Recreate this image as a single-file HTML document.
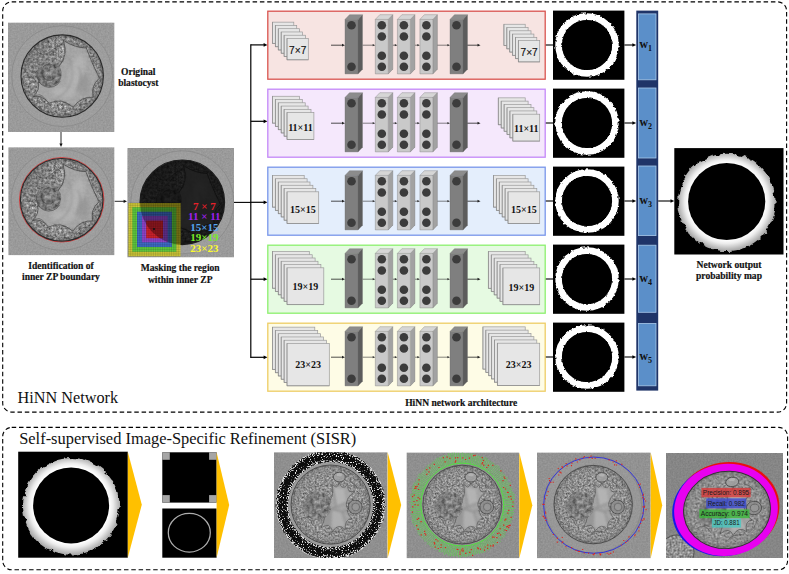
<!DOCTYPE html>
<html><head><meta charset="utf-8"><title>HiNN Network</title>
<style>html,body{margin:0;padding:0;background:#fff;overflow:hidden}svg{display:block}text{white-space:pre}</style></head><body>
<svg width="789" height="574" viewBox="0 0 789 574">
<defs>
<filter id="grain" x="0" y="0" width="100%" height="100%" color-interpolation-filters="sRGB">
<feTurbulence type="fractalNoise" baseFrequency="0.6" numOctaves="2" seed="4" result="n"/>
<feColorMatrix in="n" type="matrix" values="1 0 0 0 0  1 0 0 0 0  1 0 0 0 0  0 0 0 0 1" result="g"/>
<feComposite in="SourceGraphic" in2="g" operator="arithmetic" k1="0" k2="1" k3="0.11" k4="-0.055"/>
</filter>
<filter id="cell" x="-5%" y="-5%" width="110%" height="110%" color-interpolation-filters="sRGB">
<feTurbulence type="fractalNoise" baseFrequency="0.24" numOctaves="3" seed="11" result="n"/>
<feColorMatrix in="n" type="matrix" values="0.75 0 0 0 0.13  0.75 0 0 0 0.13  0.75 0 0 0 0.13  0 0 0 0 1" result="g"/>
<feComposite in="g" in2="SourceGraphic" operator="in"/>
</filter>
<filter id="cell2" x="-5%" y="-5%" width="110%" height="110%" color-interpolation-filters="sRGB">
<feTurbulence type="fractalNoise" baseFrequency="0.4" numOctaves="3" seed="23" result="n"/>
<feColorMatrix in="n" type="matrix" values="0.8 0 0 0 0.16  0.8 0 0 0 0.16  0.8 0 0 0 0.16  0 0 0 0 1" result="g"/>
<feComposite in="g" in2="SourceGraphic" operator="in"/>
</filter>
<filter id="cellf" x="-5%" y="-5%" width="110%" height="110%" color-interpolation-filters="sRGB">
<feTurbulence type="fractalNoise" baseFrequency="0.5" numOctaves="3" seed="5" result="n"/>
<feColorMatrix in="n" type="matrix" values="0.62 0 0 0 0.26  0.62 0 0 0 0.26  0.62 0 0 0 0.26  0 0 0 0 1" result="g"/>
<feComposite in="g" in2="SourceGraphic" operator="in"/>
</filter>
<filter id="rough" x="-10%" y="-10%" width="120%" height="120%">
<feTurbulence type="fractalNoise" baseFrequency="0.35" numOctaves="2" seed="2" result="n"/>
<feDisplacementMap in="SourceGraphic" in2="n" scale="3.2" xChannelSelector="R" yChannelSelector="G"/>
</filter>
<filter id="rough2" x="-10%" y="-10%" width="120%" height="120%">
<feTurbulence type="fractalNoise" baseFrequency="0.14" numOctaves="3" seed="9" result="n"/>
<feDisplacementMap in="SourceGraphic" in2="n" scale="6" xChannelSelector="R" yChannelSelector="G"/>
</filter>
<filter id="speck" x="-5%" y="-5%" width="110%" height="110%" color-interpolation-filters="sRGB">
<feTurbulence type="fractalNoise" baseFrequency="0.85" numOctaves="1" seed="8" result="n"/>
<feColorMatrix in="n" type="matrix" values="0 0 0 0 0.92  0 0 0 0 0.92  0 0 0 0 0.92  9 0 0 0 -5.3" result="g"/>
<feComposite in="g" in2="SourceGraphic" operator="in"/>
</filter>
<filter id="speck2" x="-5%" y="-5%" width="110%" height="110%" color-interpolation-filters="sRGB">
<feTurbulence type="fractalNoise" baseFrequency="0.8" numOctaves="1" seed="31" result="n"/>
<feColorMatrix in="n" type="matrix" values="0 0 0 0 0.85  0 0 0 0 0.85  0 0 0 0 0.85  9 0 0 0 -4.3" result="g"/>
<feComposite in="g" in2="SourceGraphic" operator="in"/>
</filter>
<filter id="b1"><feGaussianBlur stdDeviation="1"/></filter>
<filter id="b2"><feGaussianBlur stdDeviation="2.2"/></filter>
<filter id="b3"><feGaussianBlur stdDeviation="3.5"/></filter>
<radialGradient id="prob" cx="0.5" cy="0.5" r="0.5">
<stop offset="0.71" stop-color="#ffffff"/><stop offset="0.78" stop-color="#ececec"/><stop offset="0.92" stop-color="#a4a4a4"/><stop offset="1" stop-color="#909090"/>
</radialGradient>
<g id="bd"><polygon points="0,0 4.5,-4.7 17.5,-4.7 13,0" fill="#8c8c8c"/><polygon points="13,0 17.5,-4.7 17.5,49.8 13,54.5" fill="#5c5c5c"/><rect x="0" y="0" width="13" height="54.5" fill="#7f7f7f"/><path d="M0,0H13V54.5H0Z M13,0L17.5,-4.7V49.8L13,54.5 M0,0L4.5,-4.7H17.5" fill="none" stroke="#6a6a6a" stroke-width="0.35"/></g>
<g id="bl"><polygon points="0,0 4.5,-4.7 17.5,-4.7 13,0" fill="#d6d6d6"/><polygon points="13,0 17.5,-4.7 17.5,49.8 13,54.5" fill="#a2a2a2"/><rect x="0" y="0" width="13" height="54.5" fill="#c9c9c9"/><path d="M0,0H13V54.5H0Z M13,0L17.5,-4.7V49.8L13,54.5 M0,0L4.5,-4.7H17.5" fill="none" stroke="#6a6a6a" stroke-width="0.35"/></g>
<g id="net">
<line x1="331" y1="0" x2="342.8" y2="0" stroke="#222" stroke-width="0.8"/><polygon points="345,0 342.0,-1.36 342.0,1.36" fill="#222"/>
<line x1="362.5" y1="0" x2="373.5" y2="0" stroke="#333" stroke-width="0.6"/><polygon points="375.3,0 372.7,-1.12 372.7,1.12" fill="#333"/>
<line x1="392.5" y1="0" x2="395.59999999999997" y2="0" stroke="#333" stroke-width="0.6"/><polygon points="397.4,0 394.79999999999995,-1.12 394.79999999999995,1.12" fill="#333"/>
<line x1="414.8" y1="0" x2="418.09999999999997" y2="0" stroke="#333" stroke-width="0.6"/><polygon points="419.9,0 417.29999999999995,-1.12 417.29999999999995,1.12" fill="#333"/>
<line x1="437" y1="0" x2="448.2" y2="0" stroke="#333" stroke-width="0.6"/><polygon points="450,0 447.4,-1.12 447.4,1.12" fill="#333"/>
<line x1="467" y1="0" x2="478.3" y2="0" stroke="#222" stroke-width="0.8"/><polygon points="480.5,0 477.5,-1.36 477.5,1.36" fill="#222"/>
<use href="#bd" x="345" y="-25.8"/>
<use href="#bl" x="375.3" y="-25.8"/>
<use href="#bl" x="397.4" y="-25.8"/>
<use href="#bl" x="419.9" y="-25.8"/>
<use href="#bd" x="450" y="-25.8"/>
<circle cx="351.5" cy="-19.9" r="4.3" fill="#3c3c3c"/>
<circle cx="351.5" cy="21.5" r="4.3" fill="#3c3c3c"/>
<circle cx="456.5" cy="-19.9" r="4.3" fill="#3c3c3c"/>
<circle cx="456.5" cy="21.5" r="4.3" fill="#3c3c3c"/>
<circle cx="381.8" cy="-19.9" r="4.3" fill="#3c3c3c"/>
<circle cx="381.8" cy="-8.7" r="4.3" fill="#3c3c3c"/>
<circle cx="381.8" cy="10.6" r="4.3" fill="#3c3c3c"/>
<circle cx="381.8" cy="21.5" r="4.3" fill="#3c3c3c"/>
<circle cx="403.9" cy="-19.9" r="4.3" fill="#3c3c3c"/>
<circle cx="403.9" cy="-8.7" r="4.3" fill="#3c3c3c"/>
<circle cx="403.9" cy="10.6" r="4.3" fill="#3c3c3c"/>
<circle cx="403.9" cy="21.5" r="4.3" fill="#3c3c3c"/>
<circle cx="426.4" cy="-19.9" r="4.3" fill="#3c3c3c"/>
<circle cx="426.4" cy="-8.7" r="4.3" fill="#3c3c3c"/>
<circle cx="426.4" cy="10.6" r="4.3" fill="#3c3c3c"/>
<circle cx="426.4" cy="21.5" r="4.3" fill="#3c3c3c"/>
</g>
</defs>
<rect width="789" height="574" fill="#fff"/>
<rect x="2.7" y="1.9" width="783.9" height="410.2" rx="9" ry="9" fill="none" stroke="#000" stroke-width="1.1" stroke-dasharray="4.5 2.8"/>
<rect x="2.7" y="427.4" width="784.9" height="142.4" rx="9" ry="9" fill="none" stroke="#000" stroke-width="1.1" stroke-dasharray="4.5 2.8"/>
<defs><clipPath id="kA"><circle r="41"/></clipPath>
<g id="embA" clip-path="url(#kA)"><circle r="42" fill="#888" filter="url(#cell2)"/><circle r="36" fill="none" stroke="#6c6c6c" stroke-width="9" opacity="0.18" filter="url(#b1)"/><ellipse cx="-20" cy="-14" rx="16" ry="18" fill="#606060" opacity="0.25" filter="url(#b2)"/><path d="M1.3,-35.5Q13,-28 24,-28Q29,-14 37,2Q28,10 31,21Q19,20 11,31Q-1,21 -13,27Q-21,18 -29,20.5Q-22,14 -24,6Q-8,10 -3,-10Q6,-20 1.3,-35.5Z" fill="#a6a6a6" opacity="0.92" filter="url(#b1)"/><ellipse cx="14" cy="-4" rx="7" ry="18" fill="#bebebe" opacity="0.55" filter="url(#b2)" transform="rotate(18 14 -4)"/><ellipse cx="2" cy="16" rx="12" ry="6" fill="#bcbcbc" opacity="0.6" filter="url(#b2)"/><ellipse cx="22" cy="8" rx="5" ry="10" fill="#8c8c8c" opacity="0.5" filter="url(#b2)"/><path d="M1.3,-35.5Q13,-28 24,-28Q29,-14 37,2Q28,10 31,21Q19,20 11,31Q-1,21 -13,27Q-21,18 -29,20.5Q-22,14 -24,6Q-8,10 -3,-10Q6,-20 1.3,-35.5Z" fill="none" stroke="#3c3c3c" stroke-width="0.9" opacity="0.75"/><circle cx="-13" cy="-2" r="12.5" fill="#888" filter="url(#cell)"/><circle cx="-13" cy="-2" r="12.5" fill="#5a5a5a" opacity="0.22"/><path d="M-25,-4A12.5,12.5 0 0 0 -2,5 M-20,-1a7,7 0 0 0 12,3 M-19,-9a8,8 0 0 1 13,1" fill="none" stroke="#3a3a3a" stroke-width="0.8" opacity="0.7"/><path d="M-26,-26q6,8 14,2q6,-6 12,-8 M-34,2q6,-2 8,4 M-30,22q8,-8 14,2 M14,33q4,-6 12,-6" fill="none" stroke="#444" stroke-width="0.8" opacity="0.6"/><path d="M4,-22q10,14 4,30q-4,10 -14,14 M16,-10q6,12 -2,26" fill="none" stroke="#8a8a8a" stroke-width="1.6" opacity="0.5" filter="url(#b1)"/><circle r="39.6" fill="none" stroke="#3a3a3a" stroke-width="2.6" opacity="0.3" filter="url(#b1)"/></g>
<g id="embB" clip-path="url(#kA)"><circle r="42" fill="#888" filter="url(#cellf)"/><circle r="36" fill="none" stroke="#6c6c6c" stroke-width="9" opacity="0.12" filter="url(#b1)"/><path d="M1.6,-22Q3.3,-8.4 0,-6Q0.2,1.0 -8,7Q-3.1,10.8 -10,24Q0.2,17.6 2,28Q8.3,18.2 15,26Q14.8,14.0 22,15Q15.8,7.2 18,5Q14.5,0.4 18,-6Q16.8,-5.8 25,-14Q16.8,-10.7 18,-21Q11.6,-13.6 9,-23Q6.2,-13.9 1.6,-22Z" fill="#a6a6a6" opacity="0.95" filter="url(#b1)"/><path d="M3,-18L14,-16L16,-2L6,2Z" fill="#b8b8b8" opacity="0.75" filter="url(#b1)"/><path d="M0,6L12,8L16,22L2,24Z" fill="#b4b4b4" opacity="0.7" filter="url(#b1)"/><path d="M-6,8L2,4L0,22L-8,22Z" fill="#8e8e8e" opacity="0.6" filter="url(#b1)"/><path d="M2,-18L6,2L0,6M6,2L16,-2M12,8L16,22M2,4L12,8L18,5" fill="none" stroke="#6a6a6a" stroke-width="0.9" opacity="0.6" filter="url(#b1)"/><path d="M1.6,-22Q3.3,-8.4 0,-6Q0.2,1.0 -8,7Q-3.1,10.8 -10,24Q0.2,17.6 2,28Q8.3,18.2 15,26Q14.8,14.0 22,15Q15.8,7.2 18,5Q14.5,0.4 18,-6Q16.8,-5.8 25,-14Q16.8,-10.7 18,-21Q11.6,-13.6 9,-23Q6.2,-13.9 1.6,-22Z" fill="none" stroke="#404040" stroke-width="0.8" opacity="0.65"/><ellipse cx="9" cy="-28.5" rx="6.2" ry="5" fill="#a0a0a0" stroke="#3a3a3a" stroke-width="0.8" opacity="0.85"/><ellipse cx="9" cy="-31" rx="3" ry="1.6" fill="#b8b8b8" opacity="0.8"/><circle cx="25.4" cy="2.5" r="7.2" fill="#8c8c8c" stroke="#3a3a3a" stroke-width="0.8" opacity="0.85"/><circle cx="26" cy="2.5" r="4" fill="#9a9a9a" stroke="#4a4a4a" stroke-width="0.7" opacity="0.7"/><circle cx="-14" cy="1" r="15" fill="#888" filter="url(#cell)" opacity="0.85"/><circle cx="-14" cy="1" r="15" fill="#5e5e5e" opacity="0.12"/><path d="M-24,-22q10,8 20,-2 M-30,14q8,-4 12,8 M-4,32q6,-6 16,-3 M20,-24q6,2 8,8 M26,16q-2,8 -10,12" fill="none" stroke="#484848" stroke-width="0.8" opacity="0.55"/><circle r="39.6" fill="none" stroke="#3a3a3a" stroke-width="2.6" opacity="0.25" filter="url(#b1)"/></g></defs>
<clipPath id="e1c"><rect x="8" y="22.5" width="106.5" height="109.5"/></clipPath><g clip-path="url(#e1c)"><rect x="8" y="22.5" width="106.5" height="109.5" fill="#9a9a9a" filter="url(#grain)"/><circle cx="62.2" cy="76.1" r="46.2" fill="none" stroke="#a6a6a6" stroke-width="8" opacity="0.3"/><circle cx="62.2" cy="76.1" r="50.400000000000006" fill="none" stroke="#848484" stroke-width="1" opacity="0.6"/><use href="#embA" transform="translate(62.2,76.1) scale(1.005)"/><circle cx="62.2" cy="76.1" r="41.2" fill="none" stroke="#2a2a2a" stroke-width="1.1"/></g>
<clipPath id="e2c"><rect x="8.3" y="147.3" width="106.2" height="108"/></clipPath><g clip-path="url(#e2c)"><rect x="8.3" y="147.3" width="106.2" height="108" fill="#9a9a9a" filter="url(#grain)"/><circle cx="61.7" cy="199.8" r="46.3" fill="none" stroke="#a6a6a6" stroke-width="8" opacity="0.3"/><circle cx="61.7" cy="199.8" r="50.5" fill="none" stroke="#848484" stroke-width="1" opacity="0.6"/><use href="#embA" transform="translate(61.7,199.8) scale(1.007)"/><circle cx="61.7" cy="199.8" r="42.2" fill="none" stroke="#e02424" stroke-width="0.8"/><circle cx="61.7" cy="199.8" r="41.3" fill="none" stroke="#2a2a2a" stroke-width="1.1"/></g>
<clipPath id="e3c"><rect x="127.3" y="148.1" width="106.7" height="109.3"/></clipPath><g clip-path="url(#e3c)"><rect x="127.3" y="148.1" width="106.7" height="109.3" fill="#9a9a9a" filter="url(#grain)"/><circle cx="182.3" cy="202.3" r="47.3" fill="none" stroke="#a6a6a6" stroke-width="8" opacity="0.3"/><circle cx="182.3" cy="202.3" r="51.5" fill="none" stroke="#848484" stroke-width="1" opacity="0.6"/><use href="#embA" transform="translate(182.3,202.3) scale(1.032)"/><circle cx="182.3" cy="202.3" r="42.3" fill="#000" opacity="0.8"/><circle cx="182.3" cy="202.3" r="42.3" fill="none" stroke="#1c1c1c" stroke-width="1.1"/></g>
<rect x="128.4" y="203" width="52.1" height="53.3" fill="#d8d020" opacity="0.8"/>
<rect x="132.3" y="207.2" width="44.0" height="44.6" fill="#50c840" opacity="0.88"/>
<rect x="137" y="211.7" width="34.9" height="35.3" fill="#3a5ed8" opacity="0.88"/>
<rect x="142" y="215.9" width="25.7" height="26.4" fill="#9c40cc" opacity="0.88"/>
<rect x="146.2" y="220.6" width="16.8" height="17.6" fill="#d42020" opacity="0.92"/>
<path d="M128.4,203V256.3M130.7,203V256.3M132.9,203V256.3M135.2,203V256.3M137.5,203V256.3M139.8,203V256.3M142.0,203V256.3M144.3,203V256.3M146.6,203V256.3M148.8,203V256.3M151.1,203V256.3M153.4,203V256.3M155.6,203V256.3M157.9,203V256.3M160.2,203V256.3M162.5,203V256.3M164.7,203V256.3M167.0,203V256.3M169.3,203V256.3M171.5,203V256.3M173.8,203V256.3M176.1,203V256.3M178.3,203V256.3M128.4,203.0H180.5M128.4,205.3H180.5M128.4,207.6H180.5M128.4,210.0H180.5M128.4,212.3H180.5M128.4,214.6H180.5M128.4,216.9H180.5M128.4,219.2H180.5M128.4,221.6H180.5M128.4,223.9H180.5M128.4,226.2H180.5M128.4,228.5H180.5M128.4,230.8H180.5M128.4,233.2H180.5M128.4,235.5H180.5M128.4,237.8H180.5M128.4,240.1H180.5M128.4,242.4H180.5M128.4,244.8H180.5M128.4,247.1H180.5M128.4,249.4H180.5M128.4,251.7H180.5M128.4,254.0H180.5M128.4,256.4H180.5" stroke="#000" stroke-width="0.35" opacity="0.35" fill="none"/>
<clipPath id="sqc"><rect x="128.4" y="203" width="52.1" height="53.3"/></clipPath>
<circle cx="182.3" cy="202.3" r="42.3" fill="#000" opacity="0.35" clip-path="url(#sqc)"/>
<circle cx="154" cy="229" r="1.1" fill="#111"/>
<text x="204.3" y="209.5" text-anchor="middle" font-family="Liberation Serif, serif" font-weight="bold" font-size="11" fill="#e8202a">7 × 7</text>
<text x="204.3" y="220.2" text-anchor="middle" font-family="Liberation Serif, serif" font-weight="bold" font-size="11" fill="#a020f0">11 × 11</text>
<text x="204.3" y="230.7" text-anchor="middle" font-family="Liberation Serif, serif" font-weight="bold" font-size="11" fill="#56a6f0">15×15</text>
<text x="204.3" y="241.3" text-anchor="middle" font-family="Liberation Serif, serif" font-weight="bold" font-size="11" fill="#78ea28">19×19</text>
<text x="204.3" y="251.9" text-anchor="middle" font-family="Liberation Serif, serif" font-weight="bold" font-size="11" fill="#fafa30">23×23</text>
<text x="138.3" y="75.2" text-anchor="middle" font-family="Liberation Serif, serif" font-weight="bold" font-size="9.55" fill="#111" stroke="#111" stroke-width="0.18">Original</text>
<text x="138.3" y="86" text-anchor="middle" font-family="Liberation Serif, serif" font-weight="bold" font-size="9.55" fill="#111" stroke="#111" stroke-width="0.18">blastocyst</text>
<text x="61" y="268.6" text-anchor="middle" font-family="Liberation Serif, serif" font-weight="bold" font-size="9.55" fill="#111" stroke="#111" stroke-width="0.18">Identification of</text>
<text x="61" y="279.9" text-anchor="middle" font-family="Liberation Serif, serif" font-weight="bold" font-size="9.55" fill="#111" stroke="#111" stroke-width="0.18">inner ZP boundary</text>
<text x="180.2" y="271.2" text-anchor="middle" font-family="Liberation Serif, serif" font-weight="bold" font-size="9.55" fill="#111" stroke="#111" stroke-width="0.18">Masking the region</text>
<text x="180.2" y="282.8" text-anchor="middle" font-family="Liberation Serif, serif" font-weight="bold" font-size="9.55" fill="#111" stroke="#111" stroke-width="0.18">within inner ZP</text>
<text x="461.2" y="406.2" text-anchor="middle" font-family="Liberation Serif, serif" font-weight="bold" font-size="9.55" fill="#111" stroke="#111" stroke-width="0.18">HiNN network architecture</text>
<text x="729" y="267.8" text-anchor="middle" font-family="Liberation Serif, serif" font-weight="bold" font-size="9.55" fill="#111" stroke="#111" stroke-width="0.18">Network output</text>
<text x="729" y="279.3" text-anchor="middle" font-family="Liberation Serif, serif" font-weight="bold" font-size="9.55" fill="#111" stroke="#111" stroke-width="0.18">probability map</text>
<line x1="61" y1="132" x2="61" y2="144.4" stroke="#111" stroke-width="0.9"/><polygon points="61,147 59.39,143.6 62.61,143.6" fill="#111"/>
<line x1="114.7" y1="201.3" x2="124.4" y2="201.3" stroke="#111" stroke-width="0.9"/><polygon points="127,201.3 123.60000000000001,199.69 123.60000000000001,202.91" fill="#111"/>
<line x1="234" y1="202.4" x2="251" y2="202.4" stroke="#000" stroke-width="1.1"/>
<line x1="250.8" y1="44.3" x2="250.8" y2="357.9" stroke="#000" stroke-width="1.2"/>
<rect x="267.8" y="11.2" width="277.4" height="68.0" fill="#f7e4e2" stroke="#d9534f" stroke-width="1.3"/>
<line x1="250.8" y1="44.9" x2="264.4" y2="44.9" stroke="#000" stroke-width="1.2"/><polygon points="267.4,44.9 263.59999999999997,43.04 263.59999999999997,46.76" fill="#000"/>
<use href="#net" y="45.2"/>
<rect x="272.50" y="22.15" width="21.3" height="21.3" fill="#e6e6e6" stroke="#9a9a9a" stroke-width="0.7"/><path d="M272.50,22.15V43.45H293.80" fill="none" stroke="#7e7e7e" stroke-width="0.5"/><rect x="275.40" y="25.42" width="21.3" height="21.3" fill="#e6e6e6" stroke="#9a9a9a" stroke-width="0.7"/><path d="M275.40,25.42V46.72H296.70" fill="none" stroke="#7e7e7e" stroke-width="0.5"/><rect x="278.30" y="28.69" width="21.3" height="21.3" fill="#e6e6e6" stroke="#9a9a9a" stroke-width="0.7"/><path d="M278.30,28.69V49.99H299.60" fill="none" stroke="#7e7e7e" stroke-width="0.5"/><rect x="281.20" y="31.96" width="21.3" height="21.3" fill="#e6e6e6" stroke="#9a9a9a" stroke-width="0.7"/><path d="M281.20,31.96V53.26H302.50" fill="none" stroke="#7e7e7e" stroke-width="0.5"/><rect x="284.10" y="35.23" width="21.3" height="21.3" fill="#e6e6e6" stroke="#9a9a9a" stroke-width="0.7"/><path d="M284.10,35.23V56.53H305.40" fill="none" stroke="#7e7e7e" stroke-width="0.5"/><rect x="287.00" y="38.50" width="21.3" height="21.3" fill="#e6e6e6" stroke="#9a9a9a" stroke-width="0.7"/><path d="M287.00,38.50V59.80H308.30" fill="none" stroke="#7e7e7e" stroke-width="0.5"/><text x="297.75" y="54.3" text-anchor="middle" font-family="Liberation Sans, sans-serif" font-size="10.2" fill="#111" stroke="#111" stroke-width="0.15">7×7</text>
<rect x="503.90" y="24.25" width="21.3" height="21.3" fill="#e6e6e6" stroke="#9a9a9a" stroke-width="0.7"/><path d="M503.90,24.25V45.55H525.20" fill="none" stroke="#7e7e7e" stroke-width="0.5"/><rect x="506.80" y="27.52" width="21.3" height="21.3" fill="#e6e6e6" stroke="#9a9a9a" stroke-width="0.7"/><path d="M506.80,27.52V48.82H528.10" fill="none" stroke="#7e7e7e" stroke-width="0.5"/><rect x="509.70" y="30.79" width="21.3" height="21.3" fill="#e6e6e6" stroke="#9a9a9a" stroke-width="0.7"/><path d="M509.70,30.79V52.09H531.00" fill="none" stroke="#7e7e7e" stroke-width="0.5"/><rect x="512.60" y="34.06" width="21.3" height="21.3" fill="#e6e6e6" stroke="#9a9a9a" stroke-width="0.7"/><path d="M512.60,34.06V55.36H533.90" fill="none" stroke="#7e7e7e" stroke-width="0.5"/><rect x="515.50" y="37.33" width="21.3" height="21.3" fill="#e6e6e6" stroke="#9a9a9a" stroke-width="0.7"/><path d="M515.50,37.33V58.63H536.80" fill="none" stroke="#7e7e7e" stroke-width="0.5"/><rect x="518.40" y="40.60" width="21.3" height="21.3" fill="#e6e6e6" stroke="#9a9a9a" stroke-width="0.7"/><path d="M518.40,40.60V61.90H539.70" fill="none" stroke="#7e7e7e" stroke-width="0.5"/><text x="529.15" y="55.8" text-anchor="middle" font-family="Liberation Sans, sans-serif" font-size="10.2" fill="#111" stroke="#111" stroke-width="0.15">7×7</text>
<line x1="545.8" y1="45.0" x2="553" y2="45.0" stroke="#000" stroke-width="1.1"/>
<rect x="553" y="10.6" width="71.4" height="69.2" fill="#000"/>
<clipPath id="m0"><rect x="553" y="10.6" width="71.4" height="69.2"/></clipPath>
<g clip-path="url(#m0)"><g filter="url(#rough)"><circle cx="587" cy="45.0" r="28.3" fill="none" stroke="#fff" stroke-width="6.9"/></g><circle cx="587" cy="45.0" r="25.1" fill="#000"/></g>
<line x1="624.4" y1="45.0" x2="633.2" y2="45.0" stroke="#000" stroke-width="1.1"/><polygon points="636.2,45.0 632.4000000000001,43.14 632.4000000000001,46.86" fill="#000"/>
<rect x="267.8" y="89.2" width="277.4" height="68.0" fill="#f5e8fc" stroke="#c488f8" stroke-width="1.3"/>
<line x1="250.8" y1="121.3" x2="264.4" y2="121.3" stroke="#000" stroke-width="1.2"/><polygon points="267.4,121.3 263.59999999999997,119.44 263.59999999999997,123.16" fill="#000"/>
<use href="#net" y="123.2"/>
<rect x="272.50" y="96.25" width="26.9" height="26.9" fill="#e6e6e6" stroke="#9a9a9a" stroke-width="0.7"/><path d="M272.50,96.25V123.15H299.40" fill="none" stroke="#7e7e7e" stroke-width="0.5"/><rect x="275.40" y="99.52" width="26.9" height="26.9" fill="#e6e6e6" stroke="#9a9a9a" stroke-width="0.7"/><path d="M275.40,99.52V126.42H302.30" fill="none" stroke="#7e7e7e" stroke-width="0.5"/><rect x="278.30" y="102.79" width="26.9" height="26.9" fill="#e6e6e6" stroke="#9a9a9a" stroke-width="0.7"/><path d="M278.30,102.79V129.69H305.20" fill="none" stroke="#7e7e7e" stroke-width="0.5"/><rect x="281.20" y="106.06" width="26.9" height="26.9" fill="#e6e6e6" stroke="#9a9a9a" stroke-width="0.7"/><path d="M281.20,106.06V132.96H308.10" fill="none" stroke="#7e7e7e" stroke-width="0.5"/><rect x="284.10" y="109.33" width="26.9" height="26.9" fill="#e6e6e6" stroke="#9a9a9a" stroke-width="0.7"/><path d="M284.10,109.33V136.23H311.00" fill="none" stroke="#7e7e7e" stroke-width="0.5"/><rect x="287.00" y="112.60" width="26.9" height="26.9" fill="#e6e6e6" stroke="#9a9a9a" stroke-width="0.7"/><path d="M287.00,112.60V139.50H313.90" fill="none" stroke="#7e7e7e" stroke-width="0.5"/><text x="300.45" y="130.8" text-anchor="middle" font-family="Liberation Serif, serif" font-weight="bold" font-size="10" fill="#111">11×11</text>
<rect x="498.30" y="97.85" width="26.9" height="26.9" fill="#e6e6e6" stroke="#9a9a9a" stroke-width="0.7"/><path d="M498.30,97.85V124.75H525.20" fill="none" stroke="#7e7e7e" stroke-width="0.5"/><rect x="501.20" y="101.12" width="26.9" height="26.9" fill="#e6e6e6" stroke="#9a9a9a" stroke-width="0.7"/><path d="M501.20,101.12V128.02H528.10" fill="none" stroke="#7e7e7e" stroke-width="0.5"/><rect x="504.10" y="104.39" width="26.9" height="26.9" fill="#e6e6e6" stroke="#9a9a9a" stroke-width="0.7"/><path d="M504.10,104.39V131.29H531.00" fill="none" stroke="#7e7e7e" stroke-width="0.5"/><rect x="507.00" y="107.66" width="26.9" height="26.9" fill="#e6e6e6" stroke="#9a9a9a" stroke-width="0.7"/><path d="M507.00,107.66V134.56H533.90" fill="none" stroke="#7e7e7e" stroke-width="0.5"/><rect x="509.90" y="110.93" width="26.9" height="26.9" fill="#e6e6e6" stroke="#9a9a9a" stroke-width="0.7"/><path d="M509.90,110.93V137.83H536.80" fill="none" stroke="#7e7e7e" stroke-width="0.5"/><rect x="512.80" y="114.20" width="26.9" height="26.9" fill="#e6e6e6" stroke="#9a9a9a" stroke-width="0.7"/><path d="M512.80,114.20V141.10H539.70" fill="none" stroke="#7e7e7e" stroke-width="0.5"/><text x="526.25" y="132.4" text-anchor="middle" font-family="Liberation Serif, serif" font-weight="bold" font-size="10" fill="#111">11×11</text>
<line x1="545.8" y1="123.0" x2="553" y2="123.0" stroke="#000" stroke-width="1.1"/>
<rect x="553" y="88.6" width="71.4" height="69.2" fill="#000"/>
<clipPath id="m1"><rect x="553" y="88.6" width="71.4" height="69.2"/></clipPath>
<g clip-path="url(#m1)"><g filter="url(#rough)"><circle cx="587" cy="123.0" r="28.3" fill="none" stroke="#fff" stroke-width="6.9"/></g><circle cx="587" cy="123.0" r="25.1" fill="#000"/></g>
<line x1="624.4" y1="122.99999999999999" x2="633.2" y2="122.99999999999999" stroke="#000" stroke-width="1.1"/><polygon points="636.2,122.99999999999999 632.4000000000001,121.14 632.4000000000001,124.86" fill="#000"/>
<rect x="267.8" y="167.2" width="277.4" height="68.0" fill="#e4eefc" stroke="#7896ea" stroke-width="1.3"/>
<line x1="250.8" y1="202.3" x2="264.4" y2="202.3" stroke="#000" stroke-width="1.2"/><polygon points="267.4,202.3 263.59999999999997,200.44 263.59999999999997,204.16" fill="#000"/>
<use href="#net" y="201.2"/>
<rect x="272.50" y="175.45" width="31.7" height="31.7" fill="#e6e6e6" stroke="#9a9a9a" stroke-width="0.7"/><path d="M272.50,175.45V207.15H304.20" fill="none" stroke="#7e7e7e" stroke-width="0.5"/><rect x="275.40" y="178.72" width="31.7" height="31.7" fill="#e6e6e6" stroke="#9a9a9a" stroke-width="0.7"/><path d="M275.40,178.72V210.42H307.10" fill="none" stroke="#7e7e7e" stroke-width="0.5"/><rect x="278.30" y="181.99" width="31.7" height="31.7" fill="#e6e6e6" stroke="#9a9a9a" stroke-width="0.7"/><path d="M278.30,181.99V213.69H310.00" fill="none" stroke="#7e7e7e" stroke-width="0.5"/><rect x="281.20" y="185.26" width="31.7" height="31.7" fill="#e6e6e6" stroke="#9a9a9a" stroke-width="0.7"/><path d="M281.20,185.26V216.96H312.90" fill="none" stroke="#7e7e7e" stroke-width="0.5"/><rect x="284.10" y="188.53" width="31.7" height="31.7" fill="#e6e6e6" stroke="#9a9a9a" stroke-width="0.7"/><path d="M284.10,188.53V220.23H315.80" fill="none" stroke="#7e7e7e" stroke-width="0.5"/><rect x="287.00" y="191.80" width="31.7" height="31.7" fill="#e6e6e6" stroke="#9a9a9a" stroke-width="0.7"/><path d="M287.00,191.80V223.50H318.70" fill="none" stroke="#7e7e7e" stroke-width="0.5"/><text x="302.85" y="213.1" text-anchor="middle" font-family="Liberation Serif, serif" font-weight="bold" font-size="10" fill="#111">15×15</text>
<rect x="493.50" y="175.45" width="31.7" height="31.7" fill="#e6e6e6" stroke="#9a9a9a" stroke-width="0.7"/><path d="M493.50,175.45V207.15H525.20" fill="none" stroke="#7e7e7e" stroke-width="0.5"/><rect x="496.40" y="178.72" width="31.7" height="31.7" fill="#e6e6e6" stroke="#9a9a9a" stroke-width="0.7"/><path d="M496.40,178.72V210.42H528.10" fill="none" stroke="#7e7e7e" stroke-width="0.5"/><rect x="499.30" y="181.99" width="31.7" height="31.7" fill="#e6e6e6" stroke="#9a9a9a" stroke-width="0.7"/><path d="M499.30,181.99V213.69H531.00" fill="none" stroke="#7e7e7e" stroke-width="0.5"/><rect x="502.20" y="185.26" width="31.7" height="31.7" fill="#e6e6e6" stroke="#9a9a9a" stroke-width="0.7"/><path d="M502.20,185.26V216.96H533.90" fill="none" stroke="#7e7e7e" stroke-width="0.5"/><rect x="505.10" y="188.53" width="31.7" height="31.7" fill="#e6e6e6" stroke="#9a9a9a" stroke-width="0.7"/><path d="M505.10,188.53V220.23H536.80" fill="none" stroke="#7e7e7e" stroke-width="0.5"/><rect x="508.00" y="191.80" width="31.7" height="31.7" fill="#e6e6e6" stroke="#9a9a9a" stroke-width="0.7"/><path d="M508.00,191.80V223.50H539.70" fill="none" stroke="#7e7e7e" stroke-width="0.5"/><text x="523.85" y="213.1" text-anchor="middle" font-family="Liberation Serif, serif" font-weight="bold" font-size="10" fill="#111">15×15</text>
<line x1="545.8" y1="201.0" x2="553" y2="201.0" stroke="#000" stroke-width="1.1"/>
<rect x="553" y="166.6" width="71.4" height="69.2" fill="#000"/>
<clipPath id="m2"><rect x="553" y="166.6" width="71.4" height="69.2"/></clipPath>
<g clip-path="url(#m2)"><g filter="url(#rough)"><circle cx="587" cy="201.0" r="28.3" fill="none" stroke="#fff" stroke-width="6.9"/></g><circle cx="587" cy="201.0" r="25.1" fill="#000"/></g>
<line x1="624.4" y1="201.0" x2="633.2" y2="201.0" stroke="#000" stroke-width="1.1"/><polygon points="636.2,201.0 632.4000000000001,199.14 632.4000000000001,202.86" fill="#000"/>
<rect x="267.8" y="245.2" width="277.4" height="68.0" fill="#e6fae2" stroke="#8cf06e" stroke-width="1.3"/>
<line x1="250.8" y1="279.2" x2="264.4" y2="279.2" stroke="#000" stroke-width="1.2"/><polygon points="267.4,279.2 263.59999999999997,277.34 263.59999999999997,281.06" fill="#000"/>
<use href="#net" y="279.2"/>
<rect x="272.50" y="251.45" width="36.8" height="36.8" fill="#e6e6e6" stroke="#9a9a9a" stroke-width="0.7"/><path d="M272.50,251.45V288.25H309.30" fill="none" stroke="#7e7e7e" stroke-width="0.5"/><rect x="275.40" y="254.72" width="36.8" height="36.8" fill="#e6e6e6" stroke="#9a9a9a" stroke-width="0.7"/><path d="M275.40,254.72V291.52H312.20" fill="none" stroke="#7e7e7e" stroke-width="0.5"/><rect x="278.30" y="257.99" width="36.8" height="36.8" fill="#e6e6e6" stroke="#9a9a9a" stroke-width="0.7"/><path d="M278.30,257.99V294.79H315.10" fill="none" stroke="#7e7e7e" stroke-width="0.5"/><rect x="281.20" y="261.26" width="36.8" height="36.8" fill="#e6e6e6" stroke="#9a9a9a" stroke-width="0.7"/><path d="M281.20,261.26V298.06H318.00" fill="none" stroke="#7e7e7e" stroke-width="0.5"/><rect x="284.10" y="264.53" width="36.8" height="36.8" fill="#e6e6e6" stroke="#9a9a9a" stroke-width="0.7"/><path d="M284.10,264.53V301.33H320.90" fill="none" stroke="#7e7e7e" stroke-width="0.5"/><rect x="287.00" y="267.80" width="36.8" height="36.8" fill="#e6e6e6" stroke="#9a9a9a" stroke-width="0.7"/><path d="M287.00,267.80V304.60H323.80" fill="none" stroke="#7e7e7e" stroke-width="0.5"/><text x="305.40" y="290.4" text-anchor="middle" font-family="Liberation Serif, serif" font-weight="bold" font-size="10" fill="#111">19×19</text>
<rect x="488.40" y="251.55" width="36.8" height="36.8" fill="#e6e6e6" stroke="#9a9a9a" stroke-width="0.7"/><path d="M488.40,251.55V288.35H525.20" fill="none" stroke="#7e7e7e" stroke-width="0.5"/><rect x="491.30" y="254.82" width="36.8" height="36.8" fill="#e6e6e6" stroke="#9a9a9a" stroke-width="0.7"/><path d="M491.30,254.82V291.62H528.10" fill="none" stroke="#7e7e7e" stroke-width="0.5"/><rect x="494.20" y="258.09" width="36.8" height="36.8" fill="#e6e6e6" stroke="#9a9a9a" stroke-width="0.7"/><path d="M494.20,258.09V294.89H531.00" fill="none" stroke="#7e7e7e" stroke-width="0.5"/><rect x="497.10" y="261.36" width="36.8" height="36.8" fill="#e6e6e6" stroke="#9a9a9a" stroke-width="0.7"/><path d="M497.10,261.36V298.16H533.90" fill="none" stroke="#7e7e7e" stroke-width="0.5"/><rect x="500.00" y="264.63" width="36.8" height="36.8" fill="#e6e6e6" stroke="#9a9a9a" stroke-width="0.7"/><path d="M500.00,264.63V301.43H536.80" fill="none" stroke="#7e7e7e" stroke-width="0.5"/><rect x="502.90" y="267.90" width="36.8" height="36.8" fill="#e6e6e6" stroke="#9a9a9a" stroke-width="0.7"/><path d="M502.90,267.90V304.70H539.70" fill="none" stroke="#7e7e7e" stroke-width="0.5"/><text x="521.30" y="290.6" text-anchor="middle" font-family="Liberation Serif, serif" font-weight="bold" font-size="10" fill="#111">19×19</text>
<line x1="545.8" y1="279.0" x2="553" y2="279.0" stroke="#000" stroke-width="1.1"/>
<rect x="553" y="244.6" width="71.4" height="69.2" fill="#000"/>
<clipPath id="m3"><rect x="553" y="244.6" width="71.4" height="69.2"/></clipPath>
<g clip-path="url(#m3)"><g filter="url(#rough)"><circle cx="587" cy="279.0" r="28.3" fill="none" stroke="#fff" stroke-width="6.9"/></g><circle cx="587" cy="279.0" r="25.1" fill="#000"/></g>
<line x1="624.4" y1="279.0" x2="633.2" y2="279.0" stroke="#000" stroke-width="1.1"/><polygon points="636.2,279.0 632.4000000000001,277.14 632.4000000000001,280.86" fill="#000"/>
<rect x="267.8" y="323.2" width="277.4" height="68.0" fill="#fefce6" stroke="#eecd64" stroke-width="1.3"/>
<line x1="250.8" y1="357.3" x2="264.4" y2="357.3" stroke="#000" stroke-width="1.2"/><polygon points="267.4,357.3 263.59999999999997,355.44 263.59999999999997,359.16" fill="#000"/>
<use href="#net" y="357.2"/>
<rect x="272.50" y="327.15" width="42.3" height="42.3" fill="#e6e6e6" stroke="#9a9a9a" stroke-width="0.7"/><path d="M272.50,327.15V369.45H314.80" fill="none" stroke="#7e7e7e" stroke-width="0.5"/><rect x="275.40" y="330.42" width="42.3" height="42.3" fill="#e6e6e6" stroke="#9a9a9a" stroke-width="0.7"/><path d="M275.40,330.42V372.72H317.70" fill="none" stroke="#7e7e7e" stroke-width="0.5"/><rect x="278.30" y="333.69" width="42.3" height="42.3" fill="#e6e6e6" stroke="#9a9a9a" stroke-width="0.7"/><path d="M278.30,333.69V375.99H320.60" fill="none" stroke="#7e7e7e" stroke-width="0.5"/><rect x="281.20" y="336.96" width="42.3" height="42.3" fill="#e6e6e6" stroke="#9a9a9a" stroke-width="0.7"/><path d="M281.20,336.96V379.26H323.50" fill="none" stroke="#7e7e7e" stroke-width="0.5"/><rect x="284.10" y="340.23" width="42.3" height="42.3" fill="#e6e6e6" stroke="#9a9a9a" stroke-width="0.7"/><path d="M284.10,340.23V382.53H326.40" fill="none" stroke="#7e7e7e" stroke-width="0.5"/><rect x="287.00" y="343.50" width="42.3" height="42.3" fill="#e6e6e6" stroke="#9a9a9a" stroke-width="0.7"/><path d="M287.00,343.50V385.80H329.30" fill="none" stroke="#7e7e7e" stroke-width="0.5"/><text x="308.15" y="368.1" text-anchor="middle" font-family="Liberation Serif, serif" font-weight="bold" font-size="10" fill="#111">23×23</text>
<rect x="482.90" y="326.85" width="42.3" height="42.3" fill="#e6e6e6" stroke="#9a9a9a" stroke-width="0.7"/><path d="M482.90,326.85V369.15H525.20" fill="none" stroke="#7e7e7e" stroke-width="0.5"/><rect x="485.80" y="330.12" width="42.3" height="42.3" fill="#e6e6e6" stroke="#9a9a9a" stroke-width="0.7"/><path d="M485.80,330.12V372.42H528.10" fill="none" stroke="#7e7e7e" stroke-width="0.5"/><rect x="488.70" y="333.39" width="42.3" height="42.3" fill="#e6e6e6" stroke="#9a9a9a" stroke-width="0.7"/><path d="M488.70,333.39V375.69H531.00" fill="none" stroke="#7e7e7e" stroke-width="0.5"/><rect x="491.60" y="336.66" width="42.3" height="42.3" fill="#e6e6e6" stroke="#9a9a9a" stroke-width="0.7"/><path d="M491.60,336.66V378.96H533.90" fill="none" stroke="#7e7e7e" stroke-width="0.5"/><rect x="494.50" y="339.93" width="42.3" height="42.3" fill="#e6e6e6" stroke="#9a9a9a" stroke-width="0.7"/><path d="M494.50,339.93V382.23H536.80" fill="none" stroke="#7e7e7e" stroke-width="0.5"/><rect x="497.40" y="343.20" width="42.3" height="42.3" fill="#e6e6e6" stroke="#9a9a9a" stroke-width="0.7"/><path d="M497.40,343.20V385.50H539.70" fill="none" stroke="#7e7e7e" stroke-width="0.5"/><text x="518.55" y="367.9" text-anchor="middle" font-family="Liberation Serif, serif" font-weight="bold" font-size="10" fill="#111">23×23</text>
<line x1="545.8" y1="357.0" x2="553" y2="357.0" stroke="#000" stroke-width="1.1"/>
<rect x="553" y="322.6" width="71.4" height="69.2" fill="#000"/>
<clipPath id="m4"><rect x="553" y="322.6" width="71.4" height="69.2"/></clipPath>
<g clip-path="url(#m4)"><g filter="url(#rough)"><circle cx="587" cy="357.0" r="28.3" fill="none" stroke="#fff" stroke-width="6.9"/></g><circle cx="587" cy="357.0" r="25.1" fill="#000"/></g>
<line x1="624.4" y1="357.00000000000006" x2="633.2" y2="357.00000000000006" stroke="#000" stroke-width="1.1"/><polygon points="636.2,357.00000000000006 632.4000000000001,355.14 632.4000000000001,358.86" fill="#000"/>
<rect x="636.3" y="10.6" width="21.9" height="380" fill="#1f3468"/>
<rect x="638.4" y="13.9" width="17.6" height="65.9" fill="#5b8fc9" stroke="#a9c8ea" stroke-width="0.8"/>
<text x="639.4" y="48.4" font-family="Liberation Serif, serif" font-weight="bold" font-size="11.8" fill="#111">w<tspan font-size="8" dy="2.6">1</tspan></text>
<rect x="638.4" y="88" width="17.6" height="70.0" fill="#5b8fc9" stroke="#a9c8ea" stroke-width="0.8"/>
<text x="639.4" y="126.4" font-family="Liberation Serif, serif" font-weight="bold" font-size="11.8" fill="#111">w<tspan font-size="8" dy="2.6">2</tspan></text>
<rect x="638.4" y="166" width="17.6" height="69.6" fill="#5b8fc9" stroke="#a9c8ea" stroke-width="0.8"/>
<text x="639.4" y="204.4" font-family="Liberation Serif, serif" font-weight="bold" font-size="11.8" fill="#111">w<tspan font-size="8" dy="2.6">3</tspan></text>
<rect x="638.4" y="245.2" width="17.6" height="67.1" fill="#5b8fc9" stroke="#a9c8ea" stroke-width="0.8"/>
<text x="639.4" y="282.4" font-family="Liberation Serif, serif" font-weight="bold" font-size="11.8" fill="#111">w<tspan font-size="8" dy="2.6">4</tspan></text>
<rect x="638.4" y="323.4" width="17.6" height="62.4" fill="#5b8fc9" stroke="#a9c8ea" stroke-width="0.8"/>
<text x="639.4" y="360.4" font-family="Liberation Serif, serif" font-weight="bold" font-size="11.8" fill="#111">w<tspan font-size="8" dy="2.6">5</tspan></text>
<line x1="658.2" y1="201" x2="671.3" y2="201" stroke="#000" stroke-width="1.1"/><polygon points="674.3,201 670.5,199.14 670.5,202.86" fill="#000"/>
<rect x="674.3" y="148.1" width="109.2" height="106.4" fill="#000"/>
<clipPath id="pm"><rect x="674.3" y="148.1" width="109.2" height="106.4"/></clipPath>
<mask id="pmm" maskUnits="userSpaceOnUse" x="670" y="145" width="120" height="115"><g filter="url(#rough2)"><circle cx="726.9" cy="202.4" r="48.7" fill="#fff"/></g></mask>
<g clip-path="url(#pm)"><circle cx="726.7" cy="201.5" r="54" fill="url(#prob)" mask="url(#pmm)"/><circle cx="726.7" cy="201.5" r="38.6" fill="#000"/></g>
<text x="17.6" y="403.2" font-family="Liberation Serif, serif" font-size="16.2" fill="#111" textLength="100.5" lengthAdjust="spacingAndGlyphs">HiNN Network</text>
<text x="19.2" y="443.8" font-family="Liberation Serif, serif" font-size="16.3" fill="#111" textLength="337" lengthAdjust="spacingAndGlyphs">Self-supervised Image-Specific Refinement (SISR)</text>
<rect x="18.2" y="451.7" width="109.6" height="106" fill="#000"/>
<clipPath id="pa"><rect x="18.2" y="451.7" width="109.6" height="106"/></clipPath>
<mask id="pam" maskUnits="userSpaceOnUse" x="14" y="448" width="120" height="115"><g filter="url(#rough2)"><circle cx="71.3" cy="506.3" r="48.3" fill="#fff"/></g></mask>
<g clip-path="url(#pa)"><circle cx="71.1" cy="505.4" r="54" fill="url(#prob)" mask="url(#pam)"/><circle cx="71.1" cy="505.4" r="38" fill="#000"/></g>
<polygon points="127.8,451.7 141.8,504.7 127.8,557.7" fill="#ffc000"/>
<rect x="162.3" y="452.3" width="54.3" height="50.3" fill="#000"/>
<rect x="162.3" y="452.3" width="7.5" height="7.5" fill="#a6a6a6"/>
<rect x="209.1" y="452.3" width="7.5" height="7.5" fill="#a6a6a6"/>
<rect x="162.3" y="495.1" width="7.5" height="7.5" fill="#a6a6a6"/>
<rect x="209.1" y="495.1" width="7.5" height="7.5" fill="#a6a6a6"/>
<rect x="162.3" y="508.5" width="54.3" height="49.2" fill="#000"/>
<ellipse cx="189.3" cy="532.7" rx="21" ry="19.3" fill="none" stroke="#adadad" stroke-width="1.25"/>
<polygon points="216.6,452.3 229.2,505.0 216.6,557.7" fill="#ffc000"/>
<clipPath id="eCc"><rect x="274" y="452.3" width="113.6" height="105.6"/></clipPath><g clip-path="url(#eCc)"><rect x="274" y="452.3" width="113.6" height="105.6" fill="#8f8f8f" filter="url(#grain)"/><use href="#embB" transform="translate(330.6,504.6) scale(0.966)"/><g filter="url(#rough)"><circle cx="330.6" cy="504.6" r="48.3" fill="none" stroke="#0c0c0c" stroke-width="11.4"/></g><circle cx="330.6" cy="504.6" r="48.3" fill="none" stroke="#fff" stroke-width="12" filter="url(#speck)"/><circle cx="330.6" cy="504.6" r="53.3" fill="none" stroke="#fff" stroke-width="3" filter="url(#speck2)"/><circle cx="330.6" cy="504.6" r="43.6" fill="none" stroke="#fff" stroke-width="2.4" filter="url(#speck2)"/><circle cx="330.6" cy="504.6" r="41" fill="none" stroke="#9c9c9c" stroke-width="2.6"/><circle cx="330.6" cy="504.6" r="39.6" fill="none" stroke="#3a3a3a" stroke-width="0.75"/></g>
<polygon points="387.7,452.3 401.2,505.1 387.7,557.9" fill="#ffc000"/>
<clipPath id="eDc"><rect x="406.5" y="452.4" width="112.8" height="105.9"/></clipPath><g clip-path="url(#eDc)"><rect x="406.5" y="452.4" width="112.8" height="105.9" fill="#8f8f8f" filter="url(#grain)"/><use href="#embB" transform="translate(462.3,504.6) scale(0.961)"/><path d="M503.9,504.6L514.3,504.6M503.9,506.2L514.0,506.6M503.8,507.8L514.8,508.6M503.6,509.4L513.5,510.5M503.4,511.0L514.2,512.6M503.1,512.5L513.5,514.5M502.8,514.1L512.5,516.3M502.4,515.6L512.8,518.5M502.0,517.2L511.4,520.1M501.5,518.7L511.5,522.3M500.9,520.2L510.1,523.9M500.3,521.6L509.4,525.7M499.6,523.1L509.1,527.8M498.8,524.5L508.9,529.9M498.1,525.9L506.7,531.0M497.2,527.2L505.8,532.8M496.3,528.5L505.4,534.9M495.4,529.8L504.7,536.9M494.4,531.1L502.8,538.0M493.4,532.3L501.3,539.3M492.3,533.4L500.7,541.6M491.1,534.6L498.0,541.7M490.0,535.7L497.6,544.3M488.8,536.7L495.4,544.7M487.5,537.7L493.6,545.7M486.2,538.6L492.0,546.8M484.9,539.5L490.6,548.3M483.6,540.4L489.4,550.2M482.2,541.1L487.0,550.1M480.8,541.9L485.6,551.7M479.3,542.6L483.8,552.7M477.9,543.2L481.8,553.0M476.4,543.8L480.0,554.0M474.9,544.3L477.8,553.7M473.3,544.7L476.0,554.3M471.8,545.1L474.1,555.0M470.2,545.4L472.3,556.4M468.7,545.7L470.3,556.2M467.1,545.9L468.3,556.3M465.5,546.1L466.3,557.0M463.9,546.2L464.3,556.9M462.3,546.2L462.3,556.6M460.7,546.2L460.3,557.5M459.1,546.1L458.3,557.2M457.5,545.9L456.3,556.1M455.9,545.7L454.3,556.5M454.4,545.4L452.3,556.1M452.8,545.1L450.2,556.4M451.3,544.7L448.3,555.6M449.7,544.3L446.6,554.2M448.2,543.8L444.3,554.8M446.7,543.2L443.0,552.5M445.3,542.6L440.9,552.3M443.8,541.9L438.8,552.0M442.4,541.1L437.6,550.0M441.0,540.4L435.5,549.6M439.7,539.5L434.3,547.8M438.4,538.6L432.0,547.7M437.1,537.7L430.2,546.7M435.8,536.7L428.9,545.1M434.6,535.7L426.9,544.3M433.5,534.6L426.2,542.1M432.3,533.4L424.3,541.2M431.2,532.3L423.0,539.6M430.2,531.1L421.8,538.0M429.2,529.8L420.7,536.3M428.3,528.5L418.9,535.1M427.4,527.2L417.6,533.6M426.5,525.9L417.3,531.4M425.8,524.5L416.0,529.8M425.0,523.1L416.1,527.5M424.3,521.6L414.1,526.2M423.7,520.2L413.4,524.3M423.1,518.7L412.1,522.6M422.6,517.2L411.7,520.6M422.2,515.6L412.2,518.4M421.8,514.1L411.5,516.5M421.5,512.5L410.5,514.6M421.2,511.0L411.5,512.5M421.0,509.4L410.3,510.6M420.8,507.8L410.7,508.6M420.7,506.2L410.7,506.6M420.7,504.6L410.8,504.6M420.7,503.0L409.4,502.6M420.8,501.4L410.8,500.6M421.0,499.8L410.7,498.6M421.2,498.2L410.7,496.6M421.5,496.7L410.1,494.5M421.8,495.1L412.1,492.9M422.2,493.6L411.9,490.7M422.6,492.0L412.2,488.8M423.1,490.5L412.3,486.6M423.7,489.0L413.1,484.8M424.3,487.6L413.8,482.9M425.0,486.1L415.7,481.5M425.8,484.7L416.4,479.6M426.5,483.3L417.5,478.0M427.4,482.0L417.7,475.7M428.3,480.7L418.7,473.9M429.2,479.4L421.2,473.3M430.2,478.1L422.4,471.7M431.2,476.9L423.6,470.1M432.3,475.8L424.9,468.6M433.5,474.6L426.0,466.9M434.6,473.5L427.3,465.3M435.8,472.5L429.3,464.5M437.1,471.5L431.1,463.7M438.4,470.6L432.2,461.9M439.7,469.7L434.0,460.8M441.0,468.8L435.5,459.4M442.4,468.1L436.8,457.8M443.8,467.3L438.9,457.3M445.3,466.6L440.9,456.8M446.7,466.0L442.6,455.8M448.2,465.4L444.5,455.0M449.7,464.9L446.8,455.5M451.3,464.5L448.2,453.3M452.8,464.1L450.2,453.0M454.4,463.8L452.2,452.4M455.9,463.5L454.2,452.2M457.5,463.3L456.3,452.8M459.1,463.1L458.3,452.6M460.7,463.0L460.3,453.0M462.3,463.0L462.3,451.9M463.9,463.0L464.3,453.1M465.5,463.1L466.2,453.2M467.1,463.3L468.2,453.1M468.7,463.5L470.2,453.5M470.2,463.8L472.2,453.5M471.8,464.1L474.0,454.4M473.3,464.5L475.9,455.0M474.9,464.9L477.9,455.3M476.4,465.4L479.7,456.0M477.9,466.0L481.8,456.3M479.3,466.6L483.3,457.7M480.8,467.3L485.9,457.0M482.2,468.1L487.4,458.4M483.6,468.8L488.7,460.2M484.9,469.7L490.5,461.0M486.2,470.6L492.3,462.0M487.5,471.5L493.9,463.1M488.8,472.5L495.2,464.8M490.0,473.5L497.6,465.0M491.1,474.6L499.3,466.1M492.3,475.8L500.0,468.3M493.4,476.9L501.4,469.8M494.4,478.1L502.1,471.8M495.4,479.4L503.3,473.3M496.3,480.7L504.9,474.6M497.2,482.0L505.9,476.4M498.1,483.3L507.9,477.5M498.8,484.7L507.7,479.9M499.6,486.1L508.4,481.8M500.3,487.6L510.9,482.8M500.9,489.0L511.0,485.0M501.5,490.5L511.0,487.1M502.0,492.0L512.3,488.8M502.4,493.6L511.9,491.0M502.8,495.1L513.4,492.6M503.1,496.7L514.7,494.4M503.4,498.2L514.8,496.5M503.6,499.8L514.7,498.5M503.8,501.4L514.1,500.6M503.9,503.0L514.4,502.6" stroke="#52e040" stroke-width="0.62" fill="none"/><circle cx="462.3" cy="504.6" r="41.4" fill="none" stroke="#52e040" stroke-width="1"/><path d="M487.0,547.7h1.2v1.2h-1.2zM413.6,494.5h1.2v1.2h-1.2zM440.6,544.3h1.2v1.2h-1.2zM481.7,457.0h1.2v1.2h-1.2zM492.3,464.7h1.2v1.2h-1.2zM482.9,459.7h1.2v1.2h-1.2zM469.2,551.7h1.2v1.2h-1.2zM435.4,539.1h1.2v1.2h-1.2zM507.3,512.6h1.2v1.2h-1.2zM459.5,553.6h1.2v1.2h-1.2zM507.6,491.9h1.2v1.2h-1.2zM509.7,484.8h1.2v1.2h-1.2zM506.9,491.7h1.2v1.2h-1.2zM470.7,549.1h1.2v1.2h-1.2zM477.1,547.2h1.2v1.2h-1.2zM426.2,469.0h1.2v1.2h-1.2zM487.8,464.7h1.2v1.2h-1.2zM433.7,463.7h1.2v1.2h-1.2zM504.3,529.4h1.2v1.2h-1.2zM504.3,477.9h1.2v1.2h-1.2zM462.3,457.3h1.2v1.2h-1.2zM483.9,549.5h1.2v1.2h-1.2zM437.6,547.9h1.2v1.2h-1.2zM508.2,496.3h1.2v1.2h-1.2zM420.7,534.3h1.2v1.2h-1.2zM455.2,460.3h1.2v1.2h-1.2zM493.5,536.6h1.2v1.2h-1.2zM503.6,476.5h1.2v1.2h-1.2zM492.7,544.4h1.2v1.2h-1.2zM510.7,498.6h1.2v1.2h-1.2zM434.1,543.3h1.2v1.2h-1.2zM492.0,536.6h1.2v1.2h-1.2zM510.2,495.7h1.2v1.2h-1.2zM412.0,496.1h1.2v1.2h-1.2zM416.1,525.0h1.2v1.2h-1.2zM483.1,464.5h1.2v1.2h-1.2zM461.8,550.4h1.2v1.2h-1.2zM465.2,552.7h1.2v1.2h-1.2zM459.5,551.4h1.2v1.2h-1.2zM496.8,541.9h1.2v1.2h-1.2zM433.7,542.1h1.2v1.2h-1.2zM418.4,479.2h1.2v1.2h-1.2zM417.7,528.9h1.2v1.2h-1.2zM414.5,504.1h1.2v1.2h-1.2zM419.1,498.2h1.2v1.2h-1.2zM420.5,521.1h1.2v1.2h-1.2zM512.2,505.8h1.2v1.2h-1.2zM484.5,546.4h1.2v1.2h-1.2zM454.9,457.2h1.2v1.2h-1.2zM440.4,546.9h1.2v1.2h-1.2zM415.5,487.6h1.2v1.2h-1.2zM500.0,534.3h1.2v1.2h-1.2zM462.7,550.3h1.2v1.2h-1.2zM468.9,457.5h1.2v1.2h-1.2zM416.4,485.8h1.2v1.2h-1.2zM502.4,480.0h1.2v1.2h-1.2zM426.2,473.7h1.2v1.2h-1.2zM413.4,500.9h1.2v1.2h-1.2zM416.7,518.7h1.2v1.2h-1.2zM411.8,511.6h1.2v1.2h-1.2zM446.5,456.6h1.2v1.2h-1.2zM504.9,488.4h1.2v1.2h-1.2zM414.8,486.0h1.2v1.2h-1.2zM486.2,466.9h1.2v1.2h-1.2zM496.3,537.1h1.2v1.2h-1.2zM503.1,524.6h1.2v1.2h-1.2zM506.1,526.3h1.2v1.2h-1.2zM473.0,455.1h1.2v1.2h-1.2zM490.1,545.2h1.2v1.2h-1.2zM438.4,466.9h1.2v1.2h-1.2zM500.3,470.2h1.2v1.2h-1.2zM472.0,554.8h1.2v1.2h-1.2zM424.3,532.9h1.2v1.2h-1.2zM512.4,501.4h1.2v1.2h-1.2zM487.1,544.5h1.2v1.2h-1.2zM416.3,500.1h1.2v1.2h-1.2zM477.7,548.0h1.2v1.2h-1.2zM454.7,461.6h1.2v1.2h-1.2zM418.0,488.9h1.2v1.2h-1.2zM508.2,509.8h1.2v1.2h-1.2zM428.4,471.2h1.2v1.2h-1.2zM509.5,524.8h1.2v1.2h-1.2zM474.5,454.8h1.2v1.2h-1.2zM498.4,532.5h1.2v1.2h-1.2zM510.5,516.8h1.2v1.2h-1.2zM456.6,548.8h1.2v1.2h-1.2zM417.4,528.4h1.2v1.2h-1.2zM481.4,463.2h1.2v1.2h-1.2zM492.4,545.6h1.2v1.2h-1.2zM417.9,483.5h1.2v1.2h-1.2zM499.5,528.0h1.2v1.2h-1.2zM444.5,461.2h1.2v1.2h-1.2zM508.1,527.0h1.2v1.2h-1.2zM429.2,467.3h1.2v1.2h-1.2zM505.8,529.9h1.2v1.2h-1.2zM508.4,525.1h1.2v1.2h-1.2zM418.0,517.8h1.2v1.2h-1.2zM414.2,487.9h1.2v1.2h-1.2zM457.3,548.9h1.2v1.2h-1.2zM417.5,497.0h1.2v1.2h-1.2zM496.9,533.0h1.2v1.2h-1.2zM505.2,518.6h1.2v1.2h-1.2zM444.9,547.1h1.2v1.2h-1.2zM465.0,458.9h1.2v1.2h-1.2zM417.4,504.6h1.2v1.2h-1.2zM437.3,540.4h1.2v1.2h-1.2zM462.2,548.2h1.2v1.2h-1.2zM457.2,457.0h1.2v1.2h-1.2zM479.9,548.5h1.2v1.2h-1.2zM503.0,486.9h1.2v1.2h-1.2zM482.0,462.0h1.2v1.2h-1.2zM412.1,506.2h1.2v1.2h-1.2zM425.1,534.2h1.2v1.2h-1.2zM442.7,457.1h1.2v1.2h-1.2zM434.7,546.5h1.2v1.2h-1.2zM449.3,457.8h1.2v1.2h-1.2zM424.1,530.7h1.2v1.2h-1.2zM504.3,519.5h1.2v1.2h-1.2zM506.9,525.8h1.2v1.2h-1.2zM460.7,549.4h1.2v1.2h-1.2z" fill="#e0261c"/><circle cx="462.3" cy="504.6" r="39.4" fill="none" stroke="#3a3a3a" stroke-width="0.75"/></g>
<polygon points="519.3,452.4 532.3,505.3 519.3,558.3" fill="#ffc000"/>
<clipPath id="eEc"><rect x="537" y="452.4" width="113.7" height="105.9"/></clipPath><g clip-path="url(#eEc)"><rect x="537" y="452.4" width="113.7" height="105.9" fill="#929292" filter="url(#grain)"/><circle cx="593.2" cy="504.6" r="44.2" fill="none" stroke="#a6a6a6" stroke-width="8" opacity="0.3"/><circle cx="593.2" cy="504.6" r="48.400000000000006" fill="none" stroke="#848484" stroke-width="1" opacity="0.6"/><use href="#embB" transform="translate(593.2,504.6) scale(0.956)"/><ellipse cx="593.8" cy="505.2" rx="50.2" ry="48.1" fill="none" stroke="#2b2be0" stroke-width="0.9"/><path d="M638.4,530.3h1.1v1.1h-1.1zM570.9,465.1h1.1v1.1h-1.1zM583.8,552.4h1.1v1.1h-1.1zM544.1,517.6h1.1v1.1h-1.1zM620.8,544.5h1.1v1.1h-1.1zM642.9,493.7h1.1v1.1h-1.1zM642.3,497.1h1.1v1.1h-1.1zM642.5,495.0h1.1v1.1h-1.1zM575.5,549.9h1.1v1.1h-1.1zM556.8,537.8h1.1v1.1h-1.1zM545.2,512.7h1.1v1.1h-1.1zM543.6,503.8h1.1v1.1h-1.1zM643.9,506.7h1.1v1.1h-1.1zM552.8,533.9h1.1v1.1h-1.1zM643.4,518.0h1.1v1.1h-1.1zM599.2,553.2h1.1v1.1h-1.1zM552.7,481.7h1.1v1.1h-1.1zM566.5,465.3h1.1v1.1h-1.1zM582.9,457.2h1.1v1.1h-1.1zM571.1,547.1h1.1v1.1h-1.1zM645.1,500.5h1.1v1.1h-1.1zM561.5,466.1h1.1v1.1h-1.1zM643.6,518.7h1.1v1.1h-1.1zM560.6,472.5h1.1v1.1h-1.1zM588.7,457.1h1.1v1.1h-1.1zM544.9,498.2h1.1v1.1h-1.1zM542.3,503.8h1.1v1.1h-1.1zM616.0,464.5h1.1v1.1h-1.1zM549.0,480.1h1.1v1.1h-1.1zM576.8,461.4h1.1v1.1h-1.1zM600.2,553.6h1.1v1.1h-1.1zM561.5,542.2h1.1v1.1h-1.1zM634.2,535.2h1.1v1.1h-1.1zM560.0,471.7h1.1v1.1h-1.1zM559.1,471.4h1.1v1.1h-1.1zM642.5,506.2h1.1v1.1h-1.1zM608.6,459.3h1.1v1.1h-1.1zM546.4,495.0h1.1v1.1h-1.1zM565.6,462.9h1.1v1.1h-1.1zM593.1,554.2h1.1v1.1h-1.1zM638.4,526.8h1.1v1.1h-1.1zM608.4,553.6h1.1v1.1h-1.1zM590.5,455.6h1.1v1.1h-1.1zM556.8,537.4h1.1v1.1h-1.1zM545.0,511.4h1.1v1.1h-1.1zM558.2,474.4h1.1v1.1h-1.1zM562.0,467.1h1.1v1.1h-1.1zM592.5,553.7h1.1v1.1h-1.1zM591.7,457.8h1.1v1.1h-1.1zM645.5,509.1h1.1v1.1h-1.1zM640.2,523.0h1.1v1.1h-1.1zM575.2,458.3h1.1v1.1h-1.1zM571.4,462.6h1.1v1.1h-1.1zM543.2,516.2h1.1v1.1h-1.1zM542.6,515.8h1.1v1.1h-1.1zM610.2,552.8h1.1v1.1h-1.1zM643.8,498.6h1.1v1.1h-1.1zM545.4,517.4h1.1v1.1h-1.1zM615.8,460.3h1.1v1.1h-1.1zM588.0,552.7h1.1v1.1h-1.1zM606.6,552.7h1.1v1.1h-1.1zM550.3,481.8h1.1v1.1h-1.1zM623.2,539.9h1.1v1.1h-1.1zM627.2,540.4h1.1v1.1h-1.1zM614.0,464.3h1.1v1.1h-1.1zM579.3,459.3h1.1v1.1h-1.1zM599.8,554.3h1.1v1.1h-1.1zM642.4,512.5h1.1v1.1h-1.1zM642.5,506.3h1.1v1.1h-1.1zM577.7,550.8h1.1v1.1h-1.1zM625.2,541.9h1.1v1.1h-1.1zM621.3,463.8h1.1v1.1h-1.1zM644.0,505.7h1.1v1.1h-1.1zM628.4,536.3h1.1v1.1h-1.1zM638.1,484.1h1.1v1.1h-1.1zM582.1,549.0h1.1v1.1h-1.1zM561.7,536.9h1.1v1.1h-1.1zM548.6,477.9h1.1v1.1h-1.1zM562.3,541.3h1.1v1.1h-1.1zM642.2,519.7h1.1v1.1h-1.1zM634.6,534.2h1.1v1.1h-1.1zM639.0,486.7h1.1v1.1h-1.1zM594.0,553.1h1.1v1.1h-1.1zM612.9,551.5h1.1v1.1h-1.1zM556.7,541.6h1.1v1.1h-1.1zM612.6,461.4h1.1v1.1h-1.1zM557.7,467.9h1.1v1.1h-1.1zM547.6,491.1h1.1v1.1h-1.1zM583.8,455.9h1.1v1.1h-1.1zM545.3,520.0h1.1v1.1h-1.1zM594.6,457.8h1.1v1.1h-1.1zM640.8,519.5h1.1v1.1h-1.1zM639.8,483.4h1.1v1.1h-1.1zM565.3,546.2h1.1v1.1h-1.1zM579.0,550.9h1.1v1.1h-1.1z" fill="#e0261c"/><circle cx="593.2" cy="504.6" r="39.2" fill="none" stroke="#3a3a3a" stroke-width="0.75"/></g>
<polygon points="650.7,452.4 662.2,505.3 650.7,558.3" fill="#ffc000"/>
<clipPath id="eFc"><rect x="666" y="453" width="117" height="105"/></clipPath>
<g clip-path="url(#eFc)">
<rect x="666" y="453" width="117" height="105" fill="#868686" filter="url(#grain)"/>
<circle cx="677" cy="552" r="17" fill="#888" filter="url(#cellf)"/><circle cx="677" cy="552" r="17" fill="none" stroke="#4a4a4a" stroke-width="0.9"/>
<g transform="rotate(-9 726 509.9)">
<ellipse cx="727.5" cy="508.4" rx="52.3" ry="46" fill="#e81010"/>
<ellipse cx="724" cy="510.29999999999995" rx="52" ry="45.4" fill="#1818e8"/>
<ellipse cx="726" cy="509.9" rx="52" ry="46" fill="#e800f0"/>
</g>
<g transform="translate(727,509.9) rotate(-9) scale(1.06,0.94)"><use href="#embB"/><circle r="41" fill="none" stroke="#333" stroke-width="1"/></g>
<rect x="701.4" y="487.9" width="49.3" height="9.4" fill="#d83a3a" opacity="0.8"/>
<text x="726.0" y="495.1" text-anchor="middle" font-family="Liberation Sans, sans-serif" font-size="6.6" fill="#1a1a1a" textLength="46.3" lengthAdjust="spacingAndGlyphs">Precision: 0.895</text>
<rect x="706.2" y="498.3" width="40.1" height="10.0" fill="#3848d0" opacity="0.8"/>
<text x="726.2" y="506.1" text-anchor="middle" font-family="Liberation Sans, sans-serif" font-size="6.6" fill="#1a1a1a" textLength="37.1" lengthAdjust="spacingAndGlyphs">Recall: 0.982</text>
<rect x="699.3" y="509.4" width="50.2" height="8.8" fill="#38b838" opacity="0.8"/>
<text x="724.4" y="516.0" text-anchor="middle" font-family="Liberation Sans, sans-serif" font-size="6.6" fill="#1a1a1a" textLength="47.2" lengthAdjust="spacingAndGlyphs">Accuracy: 0.974</text>
<rect x="711.9" y="518.6" width="29.2" height="9.0" fill="#48c8c0" opacity="0.8"/>
<text x="726.5" y="525.4" text-anchor="middle" font-family="Liberation Sans, sans-serif" font-size="6.6" fill="#1a1a1a" textLength="26.2" lengthAdjust="spacingAndGlyphs">JD: 0.881</text>
</g>
</svg></body></html>
